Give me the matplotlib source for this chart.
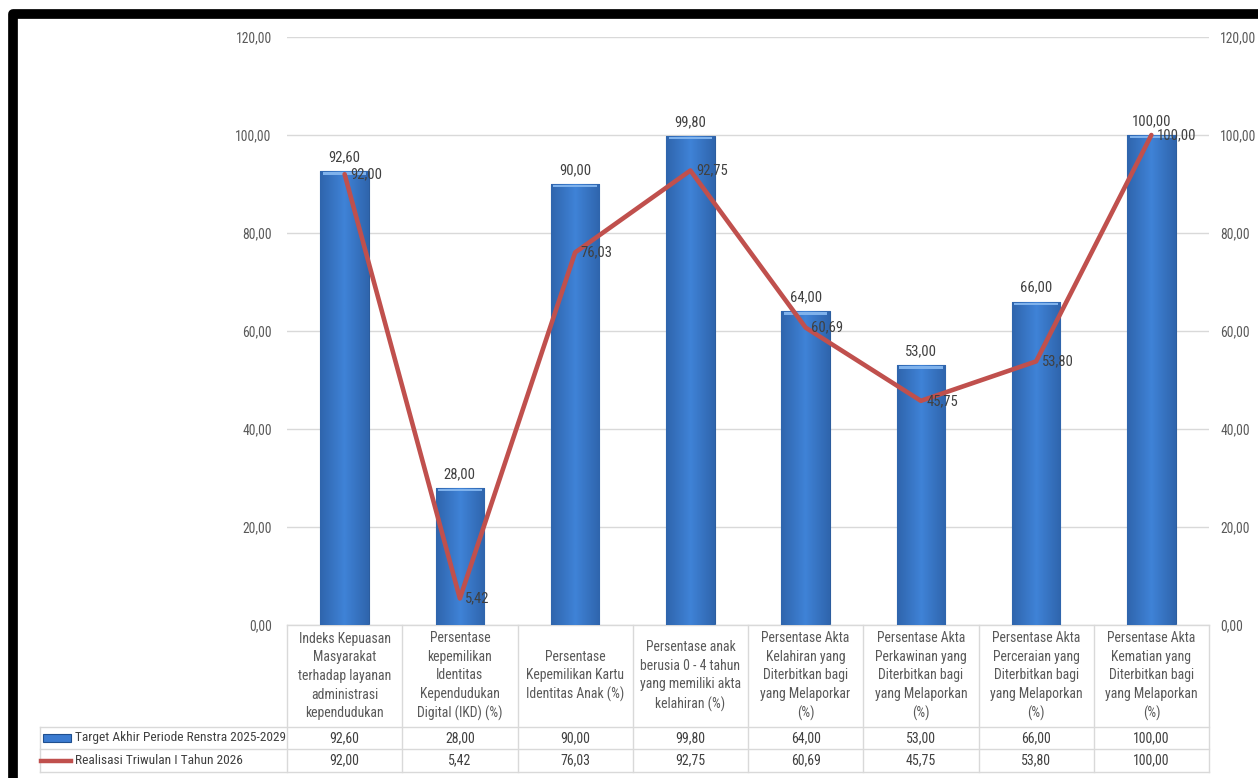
import numpy as np
import matplotlib.pyplot as plt
from matplotlib.patches import Rectangle
from matplotlib.lines import Line2D
from matplotlib.colors import LinearSegmentedColormap

# data
categories = [
    "Indeks Kepuasan\nMasyarakat\nterhadap layanan\nadministrasi\nkependudukan",
    "Persentase\nkepemilikan\nIdentitas\nKependudukan\nDigital (IKD) (%)",
    "Persentase\nKepemilikan Kartu\nIdentitas Anak (%)",
    "Persentase anak\nberusia 0 - 4 tahun\nyang memiliki akta\nkelahiran (%)",
    "Persentase Akta\nKelahiran yang\nDiterbitkan bagi\nyang Melaporkar\n(%)",
    "Persentase Akta\nPerkawinan yang\nDiterbitkan bagi\nyang Melaporkan\n(%)",
    "Persentase Akta\nPerceraian yang\nDiterbitkan bagi\nyang Melaporkan\n(%)",
    "Persentase Akta\nKematian yang\nDiterbitkan bagi\nyang Melaporkan\n(%)",
]
target = [92.60, 28.00, 90.00, 99.80, 64.00, 53.00, 66.00, 100.00]
realisasi = [92.00, 5.42, 76.03, 92.75, 60.69, 45.75, 53.80, 100.00]
series_names = ["Target Akhir Periode Renstra 2025-2029", "Realisasi Triwulan I Tahun 2026"]
yticks = [0, 20, 40, 60, 80, 100, 120]

FONT = ["Liberation Sans Narrow", "Roboto Condensed", "Open Sans Condensed", "Lato"]
plt.rcParams["font.family"] = FONT
TXT = "#595959"
DARK = "#404040"
GRID = "#d9d9d9"
BAR = "#3b7bd0"
LINE = "#c0504d"

def fmt(v):
    return f"{v:.2f}".replace(".", ",")

W, H = 1258, 778
fig = plt.figure(figsize=(W / 100, H / 100), dpi=100)
fig.patch.set_facecolor("white")

# plot area in pixels
x0, x1, ytop, ybot = 287, 1209, 37, 625
ax = fig.add_axes([x0 / W, 1 - ybot / H, (x1 - x0) / W, (ybot - ytop) / H])
n = len(categories)
x = np.arange(n)
ax.set_yticks(yticks)
ax.set_yticklabels([fmt(t) for t in yticks])
ax.yaxis.grid(True, color=GRID, lw=1)
ax.set_axisbelow(True)
ax.set_xticks([])
for s in ax.spines.values():
    s.set_visible(False)
ax.tick_params(axis="y", length=0, pad=11, labelsize=9.8, labelcolor=TXT)

ax2 = ax.twinx()
ax2.set_ylim(0, 120)
ax2.set_yticks(yticks)
ax2.set_yticklabels([fmt(t) for t in yticks])
ax2.tick_params(axis="y", length=0, pad=8, labelsize=9.8, labelcolor=TXT)
for s in ax2.spines.values():
    s.set_visible(False)

# bars with a soft horizontal gradient
bars = ax.bar(x, target, width=0.42, color=BAR, edgecolor="#2c5d9e", lw=0.8, zorder=2)
grad = np.linspace(0, 1, 64)
grad = 1 - np.abs(grad - 0.5) * 2
cmap = LinearSegmentedColormap.from_list("b", ["#2f65ad", "#3f82d6"])
for b in bars:
    bx, bw, bh = b.get_x(), b.get_width(), b.get_height()
    im = ax.imshow(grad[None, :], cmap=cmap, aspect="auto",
                   extent=[bx, bx + bw, 0, bh], zorder=2.1)
    im.set_clip_path(b)
    ax.add_patch(Rectangle((bx + bw * 0.05, bh - 0.7), bw * 0.9, 0.5, color="#7fb2ec",
                           lw=0, zorder=2.2))
    ax.annotate(fmt(bh), (bx + bw / 2, bh), xytext=(0, 5), textcoords="offset points",
                ha="center", va="bottom", fontsize=10.5, color=DARK)
ax.set_xlim(-0.5, n - 0.5)
ax.set_ylim(0, 120)

ax2.plot(x, realisasi, color=LINE, lw=3.3, solid_capstyle="round", zorder=3)
for xi, v in zip(x, realisasi):
    ax2.annotate(fmt(v), (xi, v), xytext=(4, 0), textcoords="offset points",
                 ha="left", va="center", fontsize=10.5, color=DARK)

# data table under the chart
tr = ax.get_xaxis_transform()
px = ybot - ytop
hb = -(727 - ybot) / px
r1 = -(749 - ybot) / px
r2 = -(772 - ybot) / px
left = -0.5 - (x0 - 40) / ((x1 - x0) / n)
lkw = dict(transform=tr, color=GRID, lw=1, clip_on=False)
ax.add_line(Line2D([-0.5, n - 0.5], [0, 0], **lkw))
for yy in (hb, r1, r2):
    ax.add_line(Line2D([left, n - 0.5], [yy, yy], **lkw))
ax.add_line(Line2D([left, left], [hb, r2], **lkw))
for k in range(n + 1):
    ax.add_line(Line2D([k - 0.5, k - 0.5], [0, r2], **lkw))
for k, lab in enumerate(categories):
    ax.text(k, hb / 2, lab, transform=tr, ha="center", va="center", fontsize=9.9,
            color=TXT, linespacing=1.42)
    ax.text(k, (hb + r1) / 2, fmt(target[k]), transform=tr, ha="center", va="center",
            fontsize=10, color=DARK)
    ax.text(k, (r1 + r2) / 2, fmt(realisasi[k]), transform=tr, ha="center", va="center",
            fontsize=10, color=DARK)

# legend keys in first column
key_x = left + 0.03
ax.add_patch(Rectangle((key_x, (hb + r1) / 2 - 0.006), 0.24, 0.012, transform=tr,
                       facecolor=BAR, edgecolor="#1f4f8f", lw=0.8, clip_on=False))
ax.add_line(Line2D([key_x - 0.02, key_x + 0.24], [(r1 + r2) / 2] * 2, transform=tr,
                   color=LINE, lw=3.2, clip_on=False))
ax.text(key_x + 0.27, (hb + r1) / 2, series_names[0], transform=tr, ha="left",
        va="center", fontsize=9.6, color=DARK)
ax.text(key_x + 0.27, (r1 + r2) / 2, series_names[1], transform=tr, ha="left",
        va="center", fontsize=9.6, color=DARK)

# black frame of the screenshot
fig.add_artist(Rectangle((12.5 / W, -0.1), 1.2, 1 - 14 / H + 0.1, transform=fig.transFigure,
                         fill=False, edgecolor="black", lw=7, joinstyle="round"))

fig.savefig("out.png", dpi=100)
